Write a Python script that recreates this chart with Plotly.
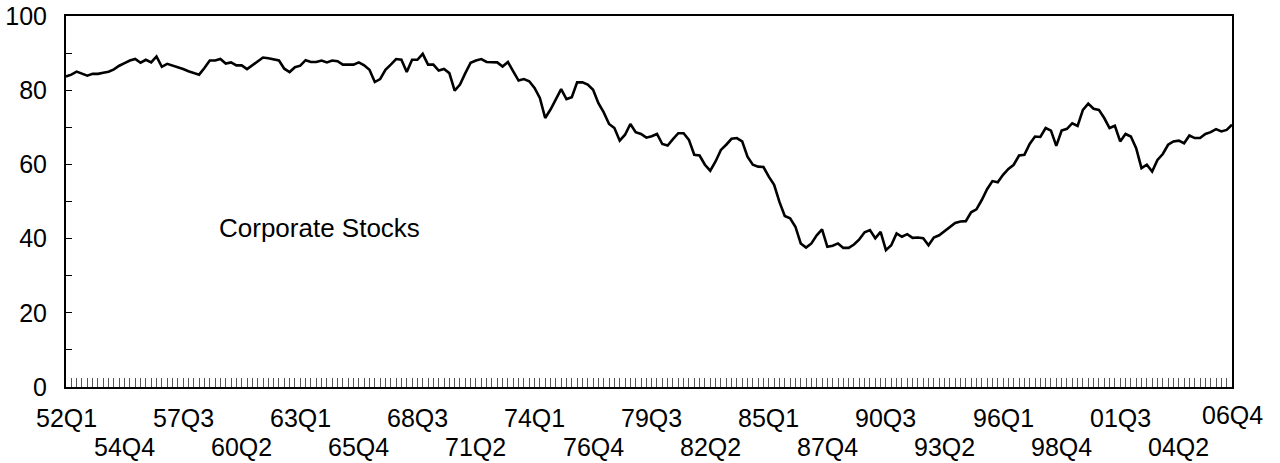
import plotly.graph_objects as go

# Share of corporate stocks, quarterly 1952Q1 - 2006Q4 (percent)
share = [
    83.7, 84.2, 85.0, 84.5, 83.9, 84.4, 84.4, 84.7, 85.0, 85.6,
    86.6, 87.3, 88.0, 88.4, 87.4, 88.2, 87.5, 89.1, 86.3, 87.1,
    86.7, 86.3, 85.7, 85.1, 84.7, 84.2, 86.0, 88.0, 88.0, 88.4,
    87.2, 87.5, 86.7, 86.7, 85.7, 86.7, 87.9, 88.8, 88.6, 88.4,
    88.0, 85.8, 84.9, 86.2, 86.6, 88.1, 87.6, 87.6, 88.0, 87.5,
    88.0, 87.8, 86.9, 86.9, 86.9, 87.5, 86.7, 85.5, 82.2, 83.0,
    85.5, 86.9, 88.4, 88.2, 84.9, 88.2, 88.2, 89.8, 86.9, 86.9,
    85.3, 85.7, 84.6, 79.9, 81.5, 84.6, 87.4, 88.0, 88.4, 87.6,
    87.5, 87.5, 86.4, 87.6, 85.1, 82.6, 83.0, 82.4, 80.6, 77.9,
    72.5, 74.8, 77.5, 80.3, 77.6, 78.1, 82.1, 82.1, 81.5, 80.1,
    76.5, 74.0, 70.9, 69.8, 66.4, 68.0, 70.9, 68.7, 68.2, 67.2,
    67.6, 68.2, 65.5, 65.1, 66.8, 68.4, 68.4, 66.6, 62.6, 62.4,
    59.9, 58.3, 60.8, 63.9, 65.3, 66.9, 67.1, 66.2, 62.1, 59.9,
    59.4, 59.3, 56.7, 54.5, 49.9, 46.1, 45.5, 43.2, 38.7, 37.6,
    38.7, 40.9, 42.5, 37.8, 38.1, 38.7, 37.5, 37.5, 38.4, 39.8,
    41.7, 42.3, 40.1, 41.8, 36.9, 38.2, 41.4, 40.5, 41.2, 40.2,
    40.3, 40.1, 38.2, 40.3, 40.9, 42.0, 43.2, 44.2, 44.6, 44.7,
    47.1, 47.9, 50.4, 53.3, 55.5, 55.2, 57.2, 58.8, 59.9, 62.4,
    62.6, 65.5, 67.5, 67.4, 69.8, 69.1, 65.0, 69.1, 69.6, 71.1,
    70.4, 74.7, 76.4, 75.0, 74.7, 72.5, 69.8, 70.4, 66.2, 68.2,
    67.5, 64.4, 59.0, 59.9, 58.1, 61.2, 62.8, 65.3, 66.2, 66.4,
    65.7, 67.8, 67.1, 67.1, 68.2, 68.7, 69.5, 68.9, 69.3, 70.7,
]

quarters = [f"{(52 + i // 4) % 100:02d}Q{i % 4 + 1}" for i in range(len(share))]

# Labelled quarters along the time axis (staggered on two rows)
tick_labels = [
    "52Q1", "54Q4", "57Q3", "60Q2", "63Q1", "65Q4", "68Q3", "71Q2",
    "74Q1", "76Q4", "79Q3", "82Q2", "85Q1", "87Q4", "90Q3", "93Q2",
    "96Q1", "98Q4", "01Q3", "04Q2", "06Q4",
]

y_ticks = list(range(0, 101, 10))
y_tick_text = [str(v) if v % 20 == 0 else "" for v in y_ticks]

FONT = "Liberation Sans, Arial, sans-serif"

x_idx = list(range(len(share)))

fig = go.Figure()
fig.add_trace(go.Scatter(
    x=x_idx, y=share, mode="lines",
    line=dict(color="black", width=2.6),
    text=quarters, hoverinfo="text+y",
    showlegend=False,
))

annotations = []
for k, lab in enumerate(tick_labels):
    pos = quarters.index(lab)
    if lab == tick_labels[-1]:
        shift = -28
    elif k % 2 == 0:
        shift = -31
    else:
        shift = -60
    annotations.append(dict(
        x=pos, y=0, xref="x", yref="paper", text=lab, showarrow=False,
        xanchor="center", yanchor="middle", yshift=shift,
        font=dict(family=FONT, size=25, color="black"),
    ))

annotations.append(dict(
    x=47.6, y=42.8, xref="x", yref="y", text="Corporate Stocks",
    showarrow=False, xanchor="center", yanchor="middle",
    font=dict(family=FONT, size=26, color="black"),
))

fig.update_layout(
    width=1280, height=463,
    margin=dict(l=66, r=48, t=16, b=76, pad=0, autoexpand=False),
    paper_bgcolor="white", plot_bgcolor="white",
    font=dict(family=FONT, size=25, color="black"),
    annotations=annotations,
    xaxis=dict(
        range=[0, len(share) - 1], automargin=False,
        tickmode="linear", tick0=0, dtick=1,
        ticks="inside", ticklen=9, tickwidth=1, tickcolor="#555",
        showticklabels=False, showgrid=False, zeroline=False,
        showline=True, linecolor="black", linewidth=2, mirror=True,
    ),
    yaxis=dict(
        range=[0, 100], automargin=False,
        tickmode="array", tickvals=y_ticks, ticktext=y_tick_text,
        ticks="inside", ticklen=6, tickwidth=1, tickcolor="black",
        ticklabelstandoff=12,
        tickfont=dict(family=FONT, size=25, color="black"),
        showgrid=False, zeroline=False,
        showline=True, linecolor="black", linewidth=2, mirror=True,
    ),
)

fig.write_html("out.html")
